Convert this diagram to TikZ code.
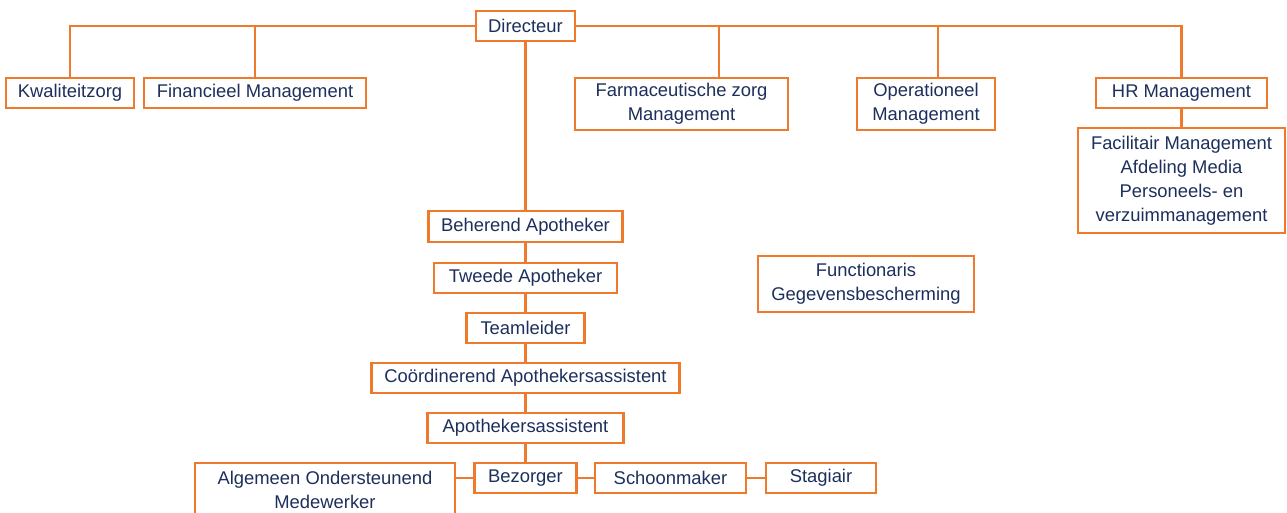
\documentclass[tikz,border=0pt]{standalone}
\usepackage{fontspec}
\setmainfont{Liberation Sans}
\usetikzlibrary{calc}
\definecolor{orgc}{HTML}{F07A2C}
\definecolor{navy}{HTML}{1D2F5C}
\tikzset{
  box/.style={draw=orgc, line width=2.6pt, fill=white, text=navy, inner sep=0pt,
    align=center, font=\fontsize{18.4}{24}\selectfont},
  link/.style={draw=orgc, line width=2.6pt}
}
\begin{document}
\begin{tikzpicture}[x=1pt,y=-1pt]
\useasboundingbox (0,0) rectangle (1287,513);
\clip (0,0) rectangle (1287,513);
\node[box, minimum width=99pt, minimum height=30pt] (dir) at (525.5,26) {Directeur};
\node[box, minimum width=128pt, minimum height=30pt] (kwal) at (70,93) {Kwaliteitzorg};
\node[box, minimum width=222pt, minimum height=30pt] (fin) at (255,93) {Financieel Management};
\node[box, minimum width=213pt, minimum height=52pt] (farm) at (681.5,104) {Farmaceutische zorg\\Management};
\node[box, minimum width=138pt, minimum height=52pt] (oper) at (926,104) {Operationeel\\Management};
\node[box, minimum width=171pt, minimum height=30pt] (hr) at (1181.5,93) {HR Management};
\node[box, minimum width=207pt, minimum height=105pt] (fac) at (1181.5,180.5) {Facilitair Management\\Afdeling Media\\Personeels- en\\verzuimmanagement};
\node[box, minimum width=216pt, minimum height=56pt] (func) at (866,284) {Functionaris\\Gegevensbescherming};
\node[box, minimum width=194pt, minimum height=31pt] (beh) at (525.5,226.5) {Beherend Apotheker};
\node[box, minimum width=183pt, minimum height=30pt] (twe) at (525.5,278) {Tweede Apotheker};
\node[box, minimum width=118pt, minimum height=30pt] (team) at (525.5,328) {Teamleider};
\node[box, minimum width=308pt, minimum height=30pt] (coo) at (525.5,378) {Coördinerend Apothekersassistent};
\node[box, minimum width=196pt, minimum height=30pt] (apo) at (525.5,428) {Apothekersassistent};
\node[box, minimum width=102pt, minimum height=30pt] (bez) at (525.5,478) {Bezorger};
\node[box, minimum width=151pt, minimum height=30pt] (sch) at (670.5,478) {Schoonmaker};
\node[box, minimum width=110pt, minimum height=30pt] (sta) at (821,478) {Stagiair};
\node[box, minimum width=260pt, minimum height=54pt] (alg) at (325,490) {Algemeen Ondersteunend\\Medewerker};
% connectors
\draw[link] (kwal.north) |- (dir.west);
\draw[link] (fin.north) -- (fin.north |- dir.west);
\draw[link] (dir.east) -| (hr.north);
\draw[link] ([xshift=37.5pt]farm.north) -- ([xshift=37.5pt]farm.north |- dir.east);
\draw[link] ([xshift=12pt]oper.north) -- ([xshift=12pt]oper.north |- dir.east);
\draw[link] (hr.south) -- (fac.north);
\draw[link] (dir.south) -- (beh.north);
\draw[link] (beh.south) -- (twe.north);
\draw[link] (twe.south) -- (team.north);
\draw[link] (team.south) -- (coo.north);
\draw[link] (coo.south) -- (apo.north);
\draw[link] (apo.south) -- (bez.north);
\draw[link] (bez.west) -- (bez.west -| alg.east);
\draw[link] (bez.east) -- (sch.west);
\draw[link] (sch.east) -- (sta.west);
\end{tikzpicture}
\end{document}
